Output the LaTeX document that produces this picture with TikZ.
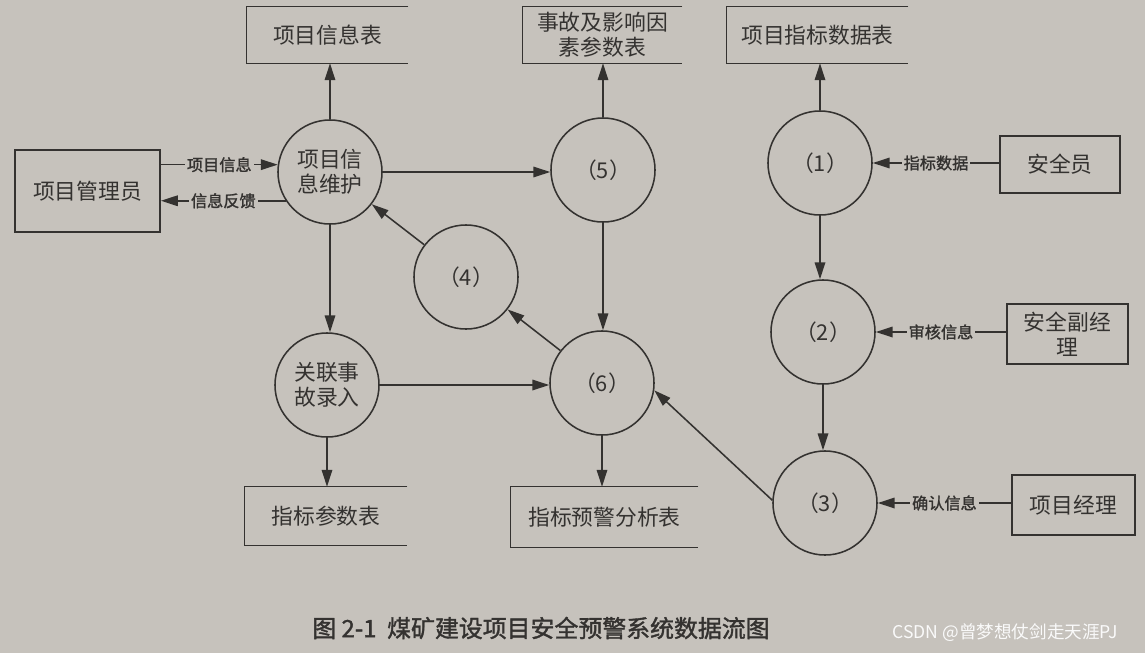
\documentclass[tikz,border=0pt]{standalone}
\usepackage{fontspec}
\setmainfont{Noto Sans CJK SC}[AutoFakeBold=1.5]
\usetikzlibrary{arrows.meta, calc, positioning}
\usepackage{xcolor}

\definecolor{paper}{RGB}{198,194,188}
\definecolor{ink}{RGB}{52,50,48}

\tikzset{
  proc/.style={draw=ink, circle, line width=1.1pt, minimum size=2.6cm, inner sep=0pt,
    align=center, text=ink, font=\fontsize{15.5}{18}\selectfont},
  extent/.style={draw=ink, line width=1.1pt, inner sep=0pt, align=center, text=ink,
    font=\fontsize{15.5}{18}\selectfont},
  store/.style={inner sep=0pt, align=center, text=ink, font=\fontsize{15.5}{18}\selectfont},
  flow/.style={draw=ink, line width=1.1pt, -{Triangle[length=12pt,width=7.5pt]}},
  lbl/.style={fill=paper, inner sep=1.5pt, text=ink, font=\fontsize{11.5}{13}\selectfont\bfseries},
}

\begin{document}
\begin{tikzpicture}[x=0.025cm, y=-0.025cm]
  % paper
  \fill[paper] (0,0) rectangle (1145,653);
  \useasboundingbox (0,0) rectangle (1145,653);

  % data stores (open on the right)
  \node[store, minimum width=4.03cm, minimum height=1.4cm] (t1) at (327.5,35) {项目信息表};
  \node[store, minimum width=3.98cm, minimum height=1.4cm] (t2) at (602.5,35) {事故及影响因\\素参数表};
  \node[store, minimum width=4.53cm, minimum height=1.4cm] (t3) at (817.5,35) {项目指标数据表};
  \node[store, minimum width=4.05cm, minimum height=1.45cm] (t4) at (326,516) {指标参数表};
  \node[store, minimum width=4.68cm, minimum height=1.5cm] (t5) at (604.5,517) {指标预警分析表};
  \foreach \s in {t1,t2,t3,t4,t5}
    \draw[ink, line width=1.1pt] (\s.north east) -- (\s.north west) -- (\s.south west) -- (\s.south east);

  % external entities
  \node[extent, minimum width=3.63cm, minimum height=2.05cm] (mgr) at (87.5,191) {项目管理员};
  \node[extent, minimum width=3cm, minimum height=1.43cm] (safe) at (1060,164.5) {安全员};
  \node[extent, minimum width=3.03cm, minimum height=1.5cm] (vice) at (1067.5,334) {安全副经\\理};
  \node[extent, minimum width=3.08cm, minimum height=1.5cm] (pm) at (1073.5,505) {项目经理};

  % processes
  \node[proc] (pim) at (330,172) {项目信\\息维护};
  \node[proc] (p5) at (603,170) {（5）};
  \node[proc] (p1) at (820,163) {（1）};
  \node[proc] (p4) at (466,277) {（4）};
  \node[proc] (p6) at (602,383) {（6）};
  \node[proc] (rel) at (327,385) {关联事\\故录入};
  \node[proc] (p2) at (823,332) {（2）};
  \node[proc] (p3) at (825,503) {（3）};

  % flows with labels
  \draw[flow] (mgr.east |- pim.172) -- node[lbl] {项目信息} (pim.172);
  \draw[flow] (pim.213) -- node[lbl] {信息反馈} (mgr.east |- pim.213);
  \draw[flow] (safe.west |- p1.east) -- node[lbl] {指标数据} (p1.east);
  \draw[flow] (vice.west |- p2.east) -- node[lbl] {审核信息} (p2.east);
  \draw[flow] (pm.west |- p3.east) -- node[lbl] {确认信息} (p3.east);

  % flows without labels
  \draw[flow] (pim.north) -- (pim.north |- t1.south);
  \draw[flow] (p5.north) -- (p5.north |- t2.south);
  \draw[flow] (p1.north) -- (p1.north |- t3.south);
  \draw[flow] (pim.east) -- (pim.east -| p5.west);
  \draw[flow] (pim.south) -- (pim.south |- rel.north);
  \draw[flow] (rel.south) -- (rel.south |- t4.north);
  \draw[flow] (rel.east) -- (rel.east -| p6.west);
  \draw[flow] (p5.south) -- (p5.south |- p6.north);
  \draw[flow] (p6.south) -- (p6.south |- t5.north);
  \draw[flow] (p6) -- (p4);
  \draw[flow] (p4) -- (pim);
  \draw[flow] (p3.177) -- (p6.-8);
  \draw[flow] (p1.south) -- (p1.south |- p2.north);
  \draw[flow] (p2.south) -- (p2.south |- p3.north);

  % caption and mark
  \node[text=ink, font=\fontsize{17}{19}\selectfont\bfseries] (cap) at (541,628) {图 2-1\ \ 煤矿建设项目安全预警系统数据流图};
  \node[text=white!92!paper, font=\fontsize{12.5}{14}\selectfont] (mark) at (1005,633) {CSDN @曾梦想仗剑走天涯PJ};
\end{tikzpicture}
\end{document}
